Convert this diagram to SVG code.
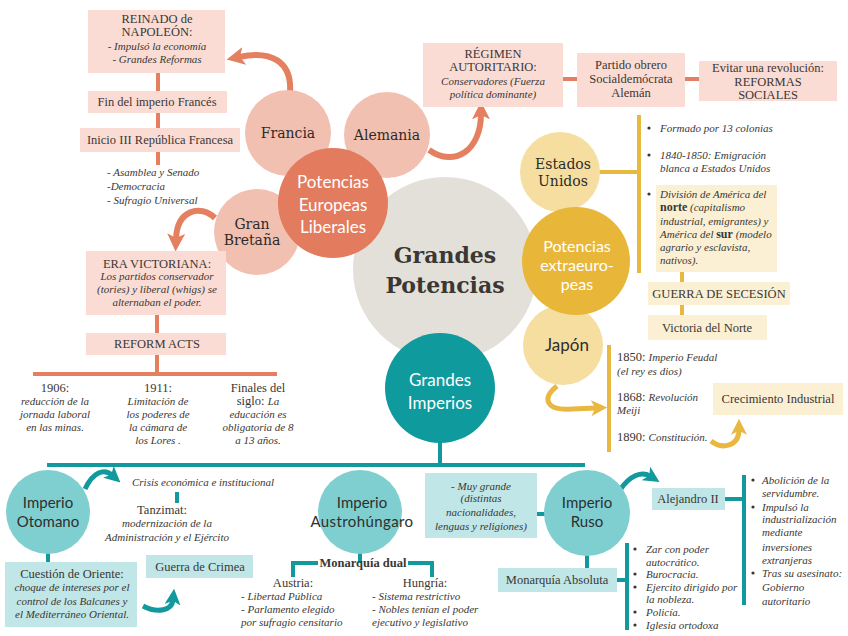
<svg xmlns="http://www.w3.org/2000/svg" width="848" height="636" viewBox="0 0 848 636">
<style>
.t{font-family:"Liberation Serif","Times New Roman",serif;font-size:12.5px;fill:#3a3733}
.i{font-style:italic;font-size:11px}
.m{text-anchor:middle}
.b{font-weight:bold}
.slab{font-family:"DejaVu Serif",serif;font-size:14px;fill:#2e2b28;text-anchor:middle}
.sans{font-family:Lato,"Noto Sans",sans-serif;font-size:17px;text-anchor:middle}
.sm{font-size:16px}
.xs{font-size:15px}
.w{fill:#ffffff}
.d{fill:#2e2e2e}
.ls{stroke:#e4805f;stroke-width:4;fill:none}
.lg{stroke:#e9b840;stroke-width:4;fill:none}
.lt{stroke:#12999e;stroke-width:4;fill:none}
.as{stroke:#e4805f;stroke-width:6;fill:none;marker-end:url(#hs)}
.ag{stroke:#e9b840;stroke-width:5;fill:none;marker-end:url(#hg)}
.at{stroke:#12999e;stroke-width:5;fill:none;marker-end:url(#ht)}
.bp{fill:#fadcd4}
.by{fill:#fbf0d3}
.bt{fill:#c0e6e7}
</style>
<defs>
<marker id="hs" viewBox="0 0 10 10" refX="3" refY="5" markerWidth="3" markerHeight="3" orient="auto" markerUnits="strokeWidth"><path d="M0,0 L10,5 L0,10 L2.5,5 z" fill="#e4805f"/></marker>
<marker id="hg" viewBox="0 0 10 10" refX="3" refY="5" markerWidth="3.2" markerHeight="3.2" orient="auto" markerUnits="strokeWidth"><path d="M0,0 L10,5 L0,10 L2.5,5 z" fill="#e9b840"/></marker>
<marker id="ht" viewBox="0 0 10 10" refX="3" refY="5" markerWidth="3.2" markerHeight="3.2" orient="auto" markerUnits="strokeWidth"><path d="M0,0 L10,5 L0,10 L2.5,5 z" fill="#12999e"/></marker>
</defs>
<rect width="848" height="636" fill="#ffffff"/>

<g id="connectors">
<line class="ls" x1="158" y1="73" x2="158" y2="165"/>
<line class="ls" x1="157" y1="315" x2="157" y2="374"/>
<line class="ls" x1="33" y1="374" x2="277" y2="374"/>
<line class="ls" x1="563" y1="79" x2="577" y2="79"/>
<line class="ls" x1="685" y1="79" x2="699" y2="79"/>
<line class="lg" x1="598" y1="172" x2="639" y2="172"/>
<line class="lg" x1="639" y1="115" x2="639" y2="273"/>
<line class="lg" x1="682" y1="272" x2="682" y2="315"/>
<line class="lg" x1="609" y1="345" x2="609" y2="452"/>
<line class="lt" x1="440" y1="440" x2="440" y2="465"/>
<line class="lt" x1="47" y1="465" x2="585" y2="465"/>
<line class="lt" x1="177" y1="492" x2="177" y2="503"/>
<line class="lt" x1="48" y1="552" x2="48" y2="563"/>
<line class="lt" x1="360" y1="552" x2="360" y2="563"/>
<path class="lt" d="M318,563 H293 V577"/>
<path class="lt" d="M408,563 H432 V577"/>
<line class="lt" x1="536" y1="514" x2="546" y2="514"/>
<line class="lt" x1="587" y1="554" x2="587" y2="568"/>
<line class="lt" x1="617" y1="580" x2="627" y2="580"/>
<line class="lt" x1="627" y1="543" x2="627" y2="630"/>
<line class="lt" x1="725" y1="499" x2="744" y2="499"/>
<line class="lt" x1="744" y1="475" x2="744" y2="605"/>
<path class="as" d="M290,92 C292,62 272,50 239,57"/>
<path class="as" d="M429,150 C455,168 481,150 481,114"/>
<path class="as" d="M215,218 C200,204 177,210 176,239"/>
<path class="ag" d="M557,386 C542,398 545,411 572,409 L596,408"/>
<path class="ag" d="M711,441 C722,450 739,446 739,430"/>
<path class="at" d="M85,489 C93,472 104,468 112,475"/>
<path class="at" d="M143,606 C158,614 172,610 173,600"/>
<path class="at" d="M620,490 C630,475 642,471 650,476"/>
</g>

<g id="grandes-potencias">
<circle cx="445" cy="269" r="92" fill="#e3e0d9"/>
<text x="445" y="263" font-family="DejaVu Serif,serif" font-size="22" font-weight="bold" fill="#3b3734" text-anchor="middle">Grandes</text>
<text x="445" y="293" font-family="DejaVu Serif,serif" font-size="22" font-weight="bold" fill="#3b3734" text-anchor="middle">Potencias</text>
</g>

<g id="francia">
<circle cx="288" cy="133" r="43" fill="#f2c0b0"/>
<text class="slab" x="288" y="138">Francia</text>
</g>
<g id="alemania">
<circle cx="387" cy="135" r="43" fill="#f2c0b0"/>
<text class="slab" x="387" y="140">Alemania</text>
</g>
<g id="gran-bretana">
<circle cx="257" cy="232" r="43" fill="#f2c0b0"/>
<text class="slab" x="252" y="229">Gran</text>
<text class="slab" x="252" y="245">Bretaña</text>
</g>
<g id="potencias-europeas">
<circle cx="333" cy="203" r="55" fill="#e37b5e"/>
<text class="sans w" x="333" y="188">Potencias</text>
<text class="sans w" x="333" y="211">Europeas</text>
<text class="sans w" x="333" y="233">Liberales</text>
</g>

<g id="estados-unidos">
<circle cx="560" cy="172" r="40" fill="#f6dea0"/>
<text class="slab" x="563" y="169">Estados</text>
<text class="slab" x="563" y="186">Unidos</text>
</g>
<g id="japon">
<circle cx="563" cy="345" r="40" fill="#f6dea0"/>
<text class="sans d" x="567" y="351" font-size="16">Japón</text>
</g>
<g id="potencias-extraeuropeas">
<circle cx="576" cy="261" r="54" fill="#e8b73a"/>
<text class="sans sm w" x="577" y="252">Potencias</text>
<text class="sans sm w" x="577" y="271">extraeuro-</text>
<text class="sans sm w" x="577" y="290">peas</text>
</g>

<g id="grandes-imperios">
<circle cx="440" cy="388" r="55" fill="#0f9a9e"/>
<text class="sans w" x="440" y="386">Grandes</text>
<text class="sans w" x="440" y="409">Imperios</text>
</g>

<g id="napoleon">
<rect class="bp" x="88" y="10" width="137" height="63"/>
<text class="t m" x="157" y="23">REINADO de</text>
<text class="t m" x="157" y="36">NAPOLEÓN:</text>
<text class="t i m" x="157" y="50">- Impulsó la economía</text>
<text class="t i m" x="157" y="63">- Grandes Reformas</text>
</g>
<g id="fin-imperio">
<rect class="bp" x="88" y="91" width="139" height="22"/>
<text class="t m" x="157" y="106">Fin del imperio Francés</text>
</g>
<g id="inicio-republica">
<rect class="bp" x="80" y="128" width="160" height="24"/>
<text class="t m" x="160" y="144">Inicio III República Francesa</text>
</g>
<g id="republica-lista">
<text class="t i" x="107" y="176">- Asamblea y Senado</text>
<text class="t i" x="107" y="190">-Democracia</text>
<text class="t i" x="107" y="204">- Sufragio Universal</text>
</g>

<g id="era-victoriana">
<rect class="bp" x="86" y="251" width="140" height="64"/>
<text class="t m" x="157" y="268">ERA VICTORIANA:</text>
<text class="t i m" x="157" y="280">Los partidos conservador</text>
<text class="t i m" x="157" y="293">(tories) y liberal (whigs) se</text>
<text class="t i m" x="157" y="306">alternaban el poder.</text>
</g>
<g id="reform-acts">
<rect class="bp" x="86" y="333" width="140" height="22"/>
<text class="t m" x="157" y="348">REFORM ACTS</text>
</g>
<g id="r1906">
<text class="t m" x="55" y="392">1906:</text>
<text class="t i m" x="55" y="405">reducción de la</text>
<text class="t i m" x="55" y="418">jornada laboral</text>
<text class="t i m" x="55" y="431">en las minas.</text>
</g>
<g id="r1911">
<text class="t m" x="158" y="392">1911:</text>
<text class="t i m" x="158" y="405">Limitación de</text>
<text class="t i m" x="158" y="418">los poderes de</text>
<text class="t i m" x="158" y="431">la cámara de</text>
<text class="t i m" x="158" y="444">los Lores .</text>
</g>
<g id="rfinales">
<text class="t m" x="258" y="392">Finales del</text>
<text class="t m" x="258" y="405">siglo: <tspan class="i">La</tspan></text>
<text class="t i m" x="258" y="418">educación es</text>
<text class="t i m" x="258" y="431">obligatoria de 8</text>
<text class="t i m" x="258" y="444">a 13 años.</text>
</g>

<g id="regimen">
<rect class="bp" x="423" y="43" width="140" height="64"/>
<text class="t m" x="493" y="58">RÉGIMEN</text>
<text class="t m" x="493" y="71">AUTORITARIO:</text>
<text class="t i m" x="493" y="85">Conservadores (Fuerza</text>
<text class="t i m" x="493" y="98">política dominante)</text>
</g>
<g id="partido-obrero">
<rect class="bp" x="577" y="53" width="108" height="54"/>
<text class="t m" x="631" y="69">Partido obrero</text>
<text class="t m" x="631" y="83">Socialdemócrata</text>
<text class="t m" x="631" y="97">Alemán</text>
</g>
<g id="evitar">
<rect class="bp" x="699" y="61" width="138" height="40"/>
<text class="t m" x="768" y="72">Evitar una revolución:</text>
<text class="t m" x="768" y="85.5">REFORMAS</text>
<text class="t m" x="768" y="99">SOCIALES</text>
</g>

<g id="eeuu-lista">
<circle cx="649" cy="128" r="1.6" fill="#3a3733"/>
<text class="t i" x="660" y="132">Formado por 13 colonias</text>
<circle cx="649" cy="155" r="1.6" fill="#3a3733"/>
<text class="t i" x="660" y="159">1840-1850: Emigración</text>
<text class="t i" x="660" y="172">blanca a Estados Unidos</text>
<circle cx="649" cy="194" r="1.6" fill="#3a3733"/>
</g>
<g id="division">
<rect class="by" x="656" y="185" width="121" height="87"/>
<text class="t i" x="660" y="198">División de América del</text>
<text class="t i" x="660" y="211"><tspan font-style="normal" font-weight="bold" font-size="12">norte</tspan> (capitalismo</text>
<text class="t i" x="660" y="225">industrial, emigrantes) y</text>
<text class="t i" x="660" y="238">América del <tspan font-style="normal" font-weight="bold" font-size="12">sur</tspan> (modelo</text>
<text class="t i" x="660" y="251">agrario y esclavista,</text>
<text class="t i" x="660" y="264">nativos).</text>
</g>
<g id="guerra-secesion">
<rect class="by" x="648" y="282" width="142" height="23"/>
<text class="t m" x="719" y="298">GUERRA DE SECESIÓN</text>
</g>
<g id="victoria-norte">
<rect class="by" x="648" y="315" width="119" height="25"/>
<text class="t m" x="707" y="332">Victoria del Norte</text>
</g>

<g id="japon-lista">
<text class="t" x="617" y="361">1850: <tspan class="i">Imperio Feudal</tspan></text>
<text class="t i" x="617" y="375">(el rey es dios)</text>
<text class="t" x="617" y="401">1868: <tspan class="i">Revolución</tspan></text>
<text class="t i" x="617" y="414">Meiji</text>
<text class="t" x="617" y="441">1890: <tspan class="i">Constitución.</tspan></text>
</g>
<g id="crecimiento">
<rect class="by" x="713" y="383" width="130" height="32"/>
<text class="t m" x="778" y="403">Crecimiento Industrial</text>
</g>

<g id="imperio-otomano">
<circle cx="48" cy="512" r="42" fill="#7fcfd1"/>
<text class="sans xs d" x="48" y="508">Imperio</text>
<text class="sans xs d" x="48" y="526.5">Otomano</text>
</g>
<g id="crisis">
<text class="t i m" x="203" y="486">Crisis económica e institucional</text>
</g>
<g id="tanzimat">
<text class="t m" x="162" y="514">Tanzimat:</text>
<text class="t i m" x="167" y="527">modernización de la</text>
<text class="t i m" x="167" y="541">Administración y el Ejército</text>
</g>
<g id="cuestion-oriente">
<rect class="bt" x="5" y="562" width="132" height="65"/>
<text class="t m" x="72" y="578">Cuestión de Oriente:</text>
<text class="t i m" x="72" y="591">choque de intereses por el</text>
<text class="t i m" x="72" y="605">control de los Balcanes y</text>
<text class="t i m" x="72" y="618">el Mediterráneo Oriental.</text>
</g>
<g id="guerra-crimea">
<rect class="bt" x="146" y="555" width="107" height="23"/>
<text class="t m" x="200" y="571">Guerra de Crimea</text>
</g>

<g id="imperio-austrohungaro">
<circle cx="360" cy="512" r="42" fill="#7fcfd1"/>
<text class="sans xs d" x="362" y="508">Imperio</text>
<text class="sans xs d" x="362" y="526.5" letter-spacing="0.4">Austrohúngaro</text>
</g>
<g id="monarquia-dual">
<text class="t b m" x="363" y="567">Monarquía dual</text>
</g>
<g id="austria">
<text class="t m" x="293" y="587">Austria:</text>
<text class="t i" x="241" y="600">- Libertad Pública</text>
<text class="t i" x="241" y="613">- Parlamento elegido</text>
<text class="t i" x="241" y="626">por sufragio censitario</text>
</g>
<g id="hungria">
<text class="t m" x="425" y="587">Hungría:</text>
<text class="t i" x="372" y="600">- Sistema restrictivo</text>
<text class="t i" x="372" y="613">- Nobles tenían el poder</text>
<text class="t i" x="372" y="626">ejecutivo y legislativo</text>
</g>

<g id="muy-grande">
<rect class="bt" x="425" y="473" width="112" height="65"/>
<text class="t i m" x="481" y="490">- Muy grande</text>
<text class="t i m" x="481" y="502">(distintas</text>
<text class="t i m" x="481" y="516">nacionalidades,</text>
<text class="t i m" x="481" y="530">lenguas y religiones)</text>
</g>
<g id="imperio-ruso">
<circle cx="587" cy="513" r="43" fill="#7fcfd1"/>
<text class="sans xs d" x="587" y="508">Imperio</text>
<text class="sans xs d" x="587" y="526.5">Ruso</text>
</g>
<g id="monarquia-absoluta">
<rect class="bt" x="498" y="568" width="119" height="24"/>
<text class="t m" x="557" y="584">Monarquía Absoluta</text>
</g>
<g id="ruso-lista">
<circle cx="635" cy="549" r="1.6" fill="#3a3733"/>
<text class="t i" x="646" y="553">Zar con poder</text>
<text class="t i" x="646" y="566">autocrático.</text>
<circle cx="635" cy="574" r="1.6" fill="#3a3733"/>
<text class="t i" x="646" y="578">Burocracia.</text>
<circle cx="635" cy="587" r="1.6" fill="#3a3733"/>
<text class="t i" x="646" y="591">Ejercito dirigido por</text>
<text class="t i" x="646" y="603">la nobleza.</text>
<circle cx="635" cy="612" r="1.6" fill="#3a3733"/>
<text class="t i" x="646" y="616">Policía.</text>
<circle cx="635" cy="625" r="1.6" fill="#3a3733"/>
<text class="t i" x="646" y="629">Iglesia ortodoxa</text>
</g>
<g id="alejandro">
<rect class="bt" x="652" y="488" width="73" height="22"/>
<text class="t m" x="688" y="503">Alejandro II</text>
</g>
<g id="alejandro-lista">
<circle cx="753" cy="480" r="1.6" fill="#3a3733"/>
<text class="t i" x="762" y="484">Abolición de la</text>
<text class="t i" x="762" y="497">servidumbre.</text>
<circle cx="753" cy="507" r="1.6" fill="#3a3733"/>
<text class="t i" x="762" y="511">Impulsó la</text>
<text class="t i" x="762" y="523">industrialización</text>
<text class="t i" x="762" y="536">mediante</text>
<text class="t i" x="762" y="551">inversiones</text>
<text class="t i" x="762" y="564">extranjeras</text>
<circle cx="753" cy="573" r="1.6" fill="#3a3733"/>
<text class="t i" x="762" y="577">Tras su asesinato:</text>
<text class="t i" x="762" y="591">Gobierno</text>
<text class="t i" x="762" y="605">autoritario</text>
</g>
</svg>
